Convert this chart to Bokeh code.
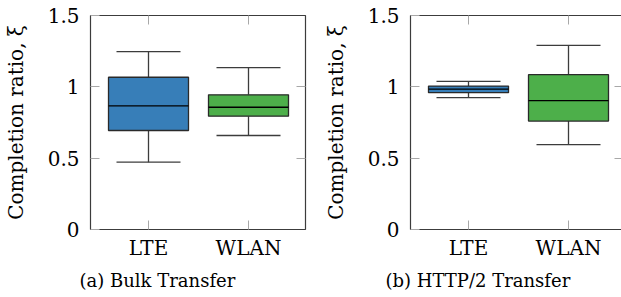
from bokeh.plotting import figure
from bokeh.layouts import row
from bokeh.models import FixedTicker, LinearAxis, Range1d, Title
from bokeh.embed import file_html
from bokeh.resources import INLINE

# ---- data ----
categories = ["LTE", "WLAN"]
colors = ["#377eb8", "#4daf4a"]

bulk_lower = [0.472, 0.659]
bulk_q1 = [0.694, 0.794]
bulk_median = [0.867, 0.857]
bulk_q3 = [1.067, 0.944]
bulk_upper = [1.247, 1.135]

http2_lower = [0.924, 0.595]
http2_q1 = [0.959, 0.760]
http2_median = [0.984, 0.903]
http2_q3 = [1.005, 1.085]
http2_upper = [1.038, 1.290]

y_ticks = [0, 0.5, 1, 1.5]
y_tick_labels = ["0", "0.5", "1", "1.5"]
y_label = "Completion ratio, \u03be"
captions = ["(a) Bulk Transfer", "(b) HTTP/2 Transfer"]

FONT = "DejaVu Serif"
BOX_W = 0.8
CAP_W = 0.64
TICK_COLOR = "#a8a8a8"
DARK = "#3c3c3c"


def make_panel(lower, q1, med, q3, upper, caption, x_end, frame_w, mb_left, mb_right, cap_offset):
    pos = list(range(1, len(categories) + 1))
    p = figure(
        output_backend="svg", toolbar_location=None,
        frame_width=frame_w, frame_height=214,
        x_range=Range1d(0.42, x_end), y_range=Range1d(0, 1.5),
        min_border_left=mb_left, min_border_right=mb_right,
        min_border_top=15, min_border_bottom=68,
    )
    p.grid.visible = False
    p.background_fill_color = "white"
    p.border_fill_color = "white"
    p.outline_line_color = DARK
    p.outline_line_width = 1.2

    # whiskers
    p.segment(x0=pos, y0=q3, x1=pos, y1=upper, line_color=DARK, line_width=1.3)
    p.segment(x0=pos, y0=lower, x1=pos, y1=q1, line_color=DARK, line_width=1.3)
    p.segment(x0=[x - CAP_W / 2 for x in pos], y0=upper, x1=[x + CAP_W / 2 for x in pos], y1=upper,
              line_color=DARK, line_width=1.3)
    p.segment(x0=[x - CAP_W / 2 for x in pos], y0=lower, x1=[x + CAP_W / 2 for x in pos], y1=lower,
              line_color=DARK, line_width=1.3)
    # boxes
    p.vbar(x=pos, bottom=q1, top=q3, width=BOX_W, fill_color=colors,
           line_color="#2a2a2a", line_width=1.3)
    # medians
    p.segment(x0=[x - BOX_W / 2 for x in pos], y0=med, x1=[x + BOX_W / 2 for x in pos], y1=med,
              line_color="black", line_width=1.3)

    # axes
    xa = p.xaxis[0]
    xa.ticker = FixedTicker(ticks=pos)
    xa.major_label_overrides = {x: c for x, c in zip(pos, categories)}
    ya = p.yaxis[0]
    ya.ticker = FixedTicker(ticks=y_ticks)
    ya.major_label_overrides = {t: l for t, l in zip(y_ticks, y_tick_labels)}
    ya.axis_label = y_label
    ya.axis_label_text_font = FONT
    ya.axis_label_text_font_style = "normal"
    ya.axis_label_text_font_size = "20px"
    ya.axis_label_text_color = "black"
    ya.axis_label_standoff = 17
    for ax in (xa, ya):
        ax.axis_line_color = None
        ax.major_tick_in = 9
        ax.major_tick_out = 0
        ax.major_tick_line_color = TICK_COLOR
        ax.minor_tick_line_color = None
        ax.major_label_text_font = FONT
        ax.major_label_text_font_size = "20px"
        ax.major_label_text_color = "black"
    xa.major_label_standoff = 6
    ya.major_label_standoff = 11

    top_ax = LinearAxis(ticker=FixedTicker(ticks=pos))
    top_ax.major_label_overrides = {x: "" for x in pos}
    right_ax = LinearAxis(ticker=FixedTicker(ticks=[0.5, 1]))
    right_ax.major_label_overrides = {0.5: "", 1: ""}
    for ax in (top_ax, right_ax):
        ax.axis_line_color = None
        ax.major_tick_in = 9
        ax.major_tick_out = 0
        ax.major_tick_line_color = TICK_COLOR
        ax.minor_tick_line_color = None
        ax.major_label_text_font_size = "1px"
        ax.major_label_standoff = 0
    p.add_layout(top_ax, "above")
    p.add_layout(right_ax, "right")

    p.add_layout(Title(text=caption, align="left", offset=cap_offset, standoff=11,
                       text_font=FONT, text_font_style="normal",
                       text_font_size="18px", text_color="black"), "below")
    return p


p1 = make_panel(bulk_lower, bulk_q1, bulk_median, bulk_q3, bulk_upper, captions[0],
                2.57, 215, 88, 10, -11)
p2 = make_panel(http2_lower, http2_q1, http2_median, http2_q3, http2_upper, captions[1],
                2.55, 213, 95, 0, -25)

layout = row(p1, p2)
open("out.html", "w").write(file_html(layout, INLINE))
